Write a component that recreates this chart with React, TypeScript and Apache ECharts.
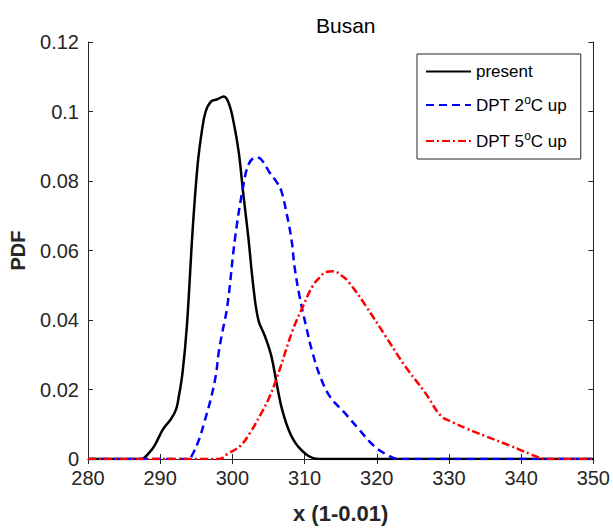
import React, { useEffect, useRef } from "react";
import * as echarts from "echarts";

const presentX = [280, 287.4, 288.3, 289.2, 290.4, 291.5, 292.2, 292.6, 293.1, 293.7, 294.5, 295.2, 295.8, 296.3, 297.0, 297.9, 298.8, 299.5, 300.2, 300.9, 301.5, 302.2, 302.9, 303.6, 304.5, 305.4, 306.2, 307.0, 308.4, 310.2, 312, 350];
const presentY = [0, 0, 0.0014, 0.0038, 0.0086, 0.0115, 0.0143, 0.0182, 0.0249, 0.0383, 0.066, 0.085, 0.0947, 0.1, 0.1028, 0.1035, 0.1043, 0.1024, 0.0966, 0.088, 0.0765, 0.064, 0.0497, 0.04, 0.0354, 0.0296, 0.021, 0.0134, 0.0057, 0.0014, 0, 0];

const up2X = [280, 294.0, 294.4, 295.4, 296.1, 297.0, 297.7, 298.1, 298.6, 299.3, 300.4, 301.5, 302.3, 303.3, 304.0, 305.2, 306.2, 306.8, 307.5, 308.2, 308.6, 309.3, 310.2, 311.1, 312.3, 313.6, 315.5, 317.5, 319.6, 321.6, 323, 350];
const up2Y = [0, 0, 0.001, 0.0057, 0.0105, 0.0172, 0.024, 0.0306, 0.0364, 0.044, 0.064, 0.0784, 0.085, 0.0868, 0.0862, 0.0823, 0.0795, 0.077, 0.0708, 0.063, 0.0555, 0.0469, 0.0383, 0.0306, 0.023, 0.0177, 0.0134, 0.0086, 0.0038, 0.001, 0, 0];

const up5X = [280, 298.2, 299.3, 301.1, 302.5, 303.8, 305.0, 306.1, 308.4, 309.8, 311.1, 312.2, 313.0, 314.0, 315.0, 316.2, 318.5, 321.2, 323.9, 326.7, 328.9, 330.6, 332.5, 334.9, 338.5, 341.3, 343.6, 350];
const up5Y = [0, 0, 0.0014, 0.0038, 0.0077, 0.0124, 0.0172, 0.023, 0.0373, 0.044, 0.0497, 0.0525, 0.0538, 0.054, 0.053, 0.0507, 0.044, 0.0354, 0.0268, 0.0191, 0.0124, 0.0105, 0.0087, 0.0067, 0.0038, 0.0014, 0, 0];

const seriesNames = ["present", "DPT 2oC up", "DPT 5oC up"];
const xTicks = { min: 280, max: 350, interval: 10 };
const yTicks = { min: 0, max: 0.12, interval: 0.02 };

const pairs = (xs: number[], ys: number[]) => xs.map((x, i) => [x, ys[i]]);

const FONT = "Liberation Sans, Arial, sans-serif";
const AX = "#262626";

export default function App() {
  const ref = useRef<HTMLDivElement>(null);
  useEffect(() => {
    document.body.style.margin = "0";
    const chart = echarts.init(ref.current!, null, { renderer: "svg" });
    const axisCommon = {
      axisLine: { show: true, lineStyle: { color: AX, width: 1 } },
      axisTick: { show: true, inside: true, length: 5, lineStyle: { color: AX } },
      splitLine: { show: false },
    };
    const lineSeries = (i: number, xs: number[], ys: number[], color: string, type: any, z: number) => ({
      name: seriesNames[i],
      type: "line",
      data: pairs(xs, ys),
      showSymbol: false,
      symbol: "none",
      smooth: 0.4,
      lineStyle: { color, width: 2.5, type },
      itemStyle: { color },
      z,
    });
    chart.setOption({
      animation: false,
      backgroundColor: "#fff",
      title: {
        text: "Busan",
        left: 311,
        top: 10,
        textStyle: { fontFamily: FONT, fontSize: 21, fontWeight: "normal", color: "#000" },
      },
      grid: { left: 85, right: 16, top: 42, bottom: 69, containLabel: false },
      legend: {
        data: seriesNames,
        orient: "vertical",
        left: 417,
        top: 54,
        padding: [9, 14, 7, 8],
        itemGap: 14,
        itemWidth: 45,
        itemHeight: 16,
        borderColor: AX,
        borderWidth: 1,
        backgroundColor: "#fff",
        itemStyle: { color: "transparent", borderColor: "transparent", borderWidth: 0, opacity: 0 },
        formatter: (name: string) => name.replace("oC", "{sup|o}C"),
        textStyle: {
          fontFamily: FONT,
          fontSize: 17,
          color: "#000",
          rich: { sup: { fontFamily: FONT, fontSize: 12, lineHeight: 12, color: "#000", padding: [0, 0, 10, 0] } },
        },
      },
      xAxis: [
        {
          type: "value",
          min: xTicks.min,
          max: xTicks.max,
          interval: xTicks.interval,
          position: "bottom",
          name: "x (1-0.01)",
          nameLocation: "middle",
          nameGap: 43,
          nameTextStyle: { fontFamily: FONT, fontSize: 22, fontWeight: "bold", color: AX },
          axisLabel: { fontFamily: FONT, fontSize: 20, color: AX, margin: 9 },
          ...axisCommon,
        },
        {
          type: "value",
          min: xTicks.min,
          max: xTicks.max,
          interval: xTicks.interval,
          position: "top",
          axisLabel: { show: false },
          ...axisCommon,
        },
      ],
      yAxis: [
        {
          type: "value",
          min: yTicks.min,
          max: yTicks.max,
          interval: yTicks.interval,
          position: "left",
          name: "PDF",
          nameLocation: "middle",
          nameGap: 60,
          nameTextStyle: { fontFamily: FONT, fontSize: 20, fontWeight: "bold", color: AX },
          axisLabel: { fontFamily: FONT, fontSize: 20, color: AX, margin: 9 },
          ...axisCommon,
        },
        {
          type: "value",
          min: yTicks.min,
          max: yTicks.max,
          interval: yTicks.interval,
          position: "right",
          axisLabel: { show: false },
          ...axisCommon,
        },
      ],
      series: [
        lineSeries(0, presentX, presentY, "#000000", "solid", 2),
        lineSeries(1, up2X, up2Y, "#0000ff", [8, 5], 3),
        lineSeries(2, up5X, up5Y, "#ff0000", [8, 3, 2, 3], 4),
      ],
    });
    return () => chart.dispose();
  }, []);
  return <div ref={ref} style={{ position: "absolute", left: 0, top: 0, width: 613, height: 529 }} />;
}
